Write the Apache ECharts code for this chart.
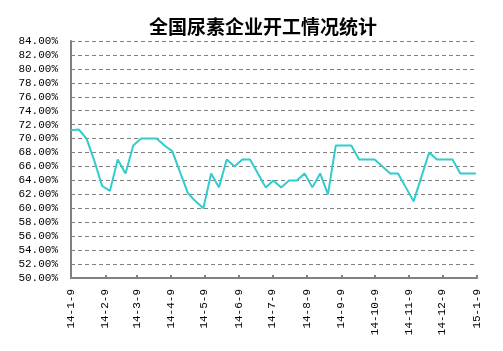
<!DOCTYPE html>
<html>
<head>
<meta charset="utf-8">
<script src="https://cdn.jsdelivr.net/npm/echarts@6/dist/echarts.min.js"></script>
<style>html,body{margin:0;padding:0;background:#fff}#c{width:503px;height:351px}</style>
</head>
<body>
<div id="c"></div>
<script>
var titleText = '全国尿素企业开工情况统计';
var startDate = '2014-01-09';
var endDate = '2015-01-09';
var weekDates = ['2014-01-09','2014-01-16','2014-01-23','2014-01-30','2014-02-06','2014-02-13','2014-02-20','2014-02-27',
  '2014-03-06','2014-03-13','2014-03-20','2014-03-27','2014-04-03','2014-04-10','2014-04-17','2014-04-24',
  '2014-05-01','2014-05-08','2014-05-15','2014-05-22','2014-05-29','2014-06-05','2014-06-12','2014-06-19','2014-06-26',
  '2014-07-03','2014-07-10','2014-07-17','2014-07-24','2014-07-31','2014-08-07','2014-08-14','2014-08-21','2014-08-28',
  '2014-09-04','2014-09-11','2014-09-18','2014-09-25','2014-10-02','2014-10-09','2014-10-16','2014-10-23','2014-10-30',
  '2014-11-06','2014-11-13','2014-11-20','2014-11-27','2014-12-04','2014-12-11','2014-12-18','2014-12-25','2015-01-01','2015-01-08'];
var rates = [71.2,71.3,70.0,66.8,63.2,62.5,67.0,65.0,69.0,70.0,70.0,70.0,69.0,68.2,65.2,62.2,61.0,60.0,65.0,63.0,67.0,66.0,67.0,67.0,65.0,
  63.0,64.0,63.0,64.0,64.0,65.0,63.0,65.0,62.0,69.0,69.0,69.0,67.0,67.0,67.0,66.0,65.0,65.0,
  63.0,61.0,64.5,68.0,67.0,67.0,67.0,65.0,65.0,65.0];
var tickDates = ['2014-01-09','2014-02-09','2014-03-09','2014-04-09','2014-05-09','2014-06-09','2014-07-09',
  '2014-08-09','2014-09-09','2014-10-09','2014-11-09','2014-12-09','2015-01-09'];
var tickLabels = ['14-1-9','14-2-9','14-3-9','14-4-9','14-5-9','14-6-9','14-7-9','14-8-9','14-9-9','14-10-9','14-11-9','14-12-9','15-1-9'];
var yMin = 50, yMax = 84, yStep = 2;

function dayNum(s){ var p = s.split('-'); return Date.UTC(+p[0], +p[1]-1, +p[2]) / 864e5; }
var d0 = dayNum(startDate);
function dayIdx(s){ return dayNum(s) - d0; }
var tickPos = tickDates.map(dayIdx);
var seriesData = weekDates.map(function(d,i){ return [dayIdx(d), rates[i]]; });

var chart = echarts.init(document.getElementById('c'), null, {renderer:'canvas'});
chart.setOption({
  animation: false,
  backgroundColor: '#ffffff',
  title: {
    text: titleText, left: 144, top: 12,
    textStyle: {fontSize: 19, fontWeight: 'bold', color: '#000', fontFamily: 'Noto Sans CJK SC'}
  },
  grid: {left: 71, right: 26, top: 41, bottom: 73, containLabel: false},
  xAxis: {
    type: 'value', min: 0, max: dayIdx(endDate),
    axisLine: {show: true, lineStyle: {color: '#808080', width: 2}},
    axisTick: {show: true, inside: true, length: 3, customValues: tickPos, lineStyle: {color: '#808080', width: 2}},
    axisLabel: {
      customValues: tickPos, rotate: 90, margin: 11, fontSize: 11, color: '#000',
      fontFamily: 'Liberation Mono', hideOverlap: false, showMinLabel: true, showMaxLabel: true,
      formatter: function(v){ var i = tickPos.indexOf(v); return i >= 0 ? tickLabels[i] : ''; }
    },
    splitLine: {show: false}
  },
  yAxis: {
    type: 'value', min: yMin, max: yMax, interval: yStep,
    axisLine: {show: true, lineStyle: {color: '#808080', width: 2}},
    axisTick: {show: false},
    axisLabel: {
      margin: 13, fontSize: 11, color: '#000', fontFamily: 'Liberation Mono',
      formatter: function(v){ return v.toFixed(2) + '%'; }
    },
    splitLine: {show: true, lineStyle: {color: '#808080', width: 1, type: [4, 3]}}
  },
  series: [{
    type: 'line', data: seriesData, showSymbol: false, symbol: 'none',
    lineStyle: {color: '#33CCCC', width: 2}, itemStyle: {color: '#33CCCC'}
  }]
});
</script>
</body>
</html>
